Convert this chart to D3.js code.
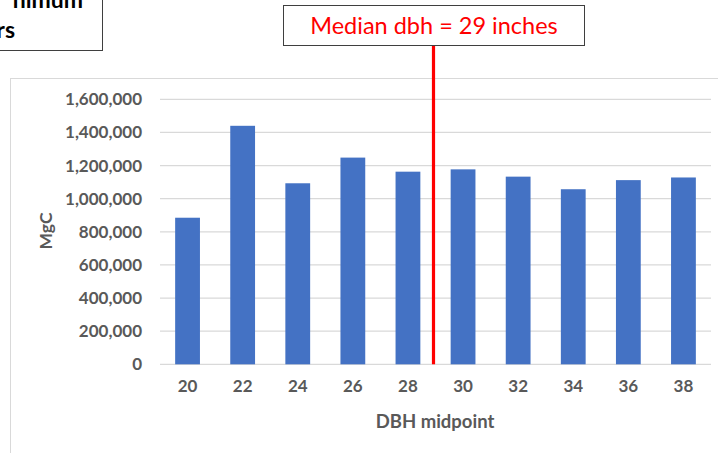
<!DOCTYPE html>
<html>
<head>
<meta charset="utf-8">
<script src="https://cdn.jsdelivr.net/npm/d3@7"></script>
<style>
  html, body { margin: 0; padding: 0; background: #fff; }
  svg { display: block; }
</style>
</head>
<body>
<svg id="chart" width="718" height="453"></svg>
<script>
// ---- data ----
const categories = ["20", "22", "24", "26", "28", "30", "32", "34", "36", "38"];
const values = [885000, 1440000, 1093000, 1248000, 1163000, 1177000, 1133000, 1057000, 1112000, 1128000];
const yTicks = [0, 200000, 400000, 600000, 800000, 1000000, 1200000, 1400000, 1600000];
const medianDbh = 29;
const medianLabel = "Median dbh = 29 inches";
const xTitle = "DBH midpoint";
const yTitle = "MgC";
const cornerNote = ["nimum", "rs"];

const svg = d3.select("#chart");
const FONT = "Lato, 'Open Sans', 'Liberation Sans', sans-serif";

// chart frame
svg.append("rect")
  .attr("x", 10.5).attr("y", 78.5)
  .attr("width", 740).attr("height", 420)
  .attr("fill", "#fff").attr("stroke", "#d9d9d9").attr("stroke-width", 1);

const plot = { left: 160, right: 711, top: 99.3, bottom: 364.3 };

const x = d3.scaleBand()
  .domain(categories)
  .range([plot.left, plot.right])
  .paddingInner(0.55)
  .paddingOuter(0.275);

const y = d3.scaleLinear()
  .domain([0, 1600000])
  .range([plot.bottom, plot.top]);

// gridlines
svg.append("g")
  .selectAll("line")
  .data(yTicks)
  .join("line")
  .attr("x1", plot.left).attr("x2", plot.right)
  .attr("y1", d => y(d)).attr("y2", d => y(d))
  .attr("stroke", "#d9d9d9").attr("stroke-width", 1.3);

// y axis labels
const yAxis = d3.axisLeft(y)
  .tickValues(yTicks)
  .tickFormat(d3.format(","))
  .tickSize(0)
  .tickPadding(18);
const gy = svg.append("g")
  .attr("transform", `translate(${plot.left},0)`)
  .call(yAxis);
gy.select(".domain").remove();
gy.selectAll("text")
  .attr("font-family", FONT).attr("font-size", 17).attr("font-weight", "bold")
  .attr("fill", "#595959");

// x axis labels
const xAxis = d3.axisBottom(x).tickSize(0).tickPadding(16);
const gx = svg.append("g")
  .attr("transform", `translate(0,${plot.bottom})`)
  .call(xAxis);
gx.select(".domain").remove();
gx.selectAll("text")
  .attr("font-family", FONT).attr("font-size", 17).attr("font-weight", "bold")
  .attr("fill", "#595959");

// bars
svg.append("g")
  .selectAll("rect")
  .data(categories.map((c, i) => ({ c, v: values[i] })))
  .join("rect")
  .attr("x", d => x(d.c))
  .attr("width", x.bandwidth())
  .attr("y", d => y(d.v))
  .attr("height", d => y(0) - y(d.v))
  .attr("fill", "#4472C4");

// axis titles
svg.append("text")
  .attr("x", 435).attr("y", 428)
  .attr("text-anchor", "middle")
  .attr("font-family", FONT).attr("font-size", 18.5).attr("font-weight", "bold")
  .attr("fill", "#595959")
  .text(xTitle);

svg.append("text")
  .attr("transform", "translate(52,231) rotate(-90)")
  .attr("text-anchor", "middle")
  .attr("font-family", FONT).attr("font-size", 17.5).attr("font-weight", "bold")
  .attr("fill", "#595959")
  .text(yTitle);

// median line: between the bands of the neighbouring categories
const lo = String(medianDbh - 1), hi = String(medianDbh + 1);
const medX = (x(lo) + x.bandwidth() / 2 + x(hi) + x.bandwidth() / 2) / 2 - 2;
svg.append("line")
  .attr("x1", medX).attr("x2", medX)
  .attr("y1", 46).attr("y2", plot.bottom)
  .attr("stroke", "#ff0000").attr("stroke-width", 3.2);

// median label box
svg.append("rect")
  .attr("x", 283.5).attr("y", 5.5)
  .attr("width", 301).attr("height", 40)
  .attr("fill", "#fff").attr("stroke", "#3f3f3f").attr("stroke-width", 1);
svg.append("text")
  .attr("x", 434).attr("y", 33.5)
  .attr("text-anchor", "middle")
  .attr("font-family", FONT).attr("font-size", 23.5)
  .attr("fill", "#ff0000")
  .text(medianLabel);

// clipped note box at top-left
svg.append("rect")
  .attr("x", -10).attr("y", -10)
  .attr("width", 112.5).attr("height", 60.5)
  .attr("fill", "#fff").attr("stroke", "#3f3f3f").attr("stroke-width", 1);
svg.append("text")
  .attr("x", 83).attr("y", 8)
  .attr("text-anchor", "end")
  .attr("font-family", FONT).attr("font-size", 23).attr("font-weight", "bold")
  .attr("fill", "#000")
  .text(cornerNote[0]);
svg.append("text")
  .attr("x", 15).attr("y", 37.5)
  .attr("text-anchor", "end")
  .attr("font-family", FONT).attr("font-size", 23).attr("font-weight", "bold")
  .attr("fill", "#000")
  .text(cornerNote[1]);
</script>
</body>
</html>
